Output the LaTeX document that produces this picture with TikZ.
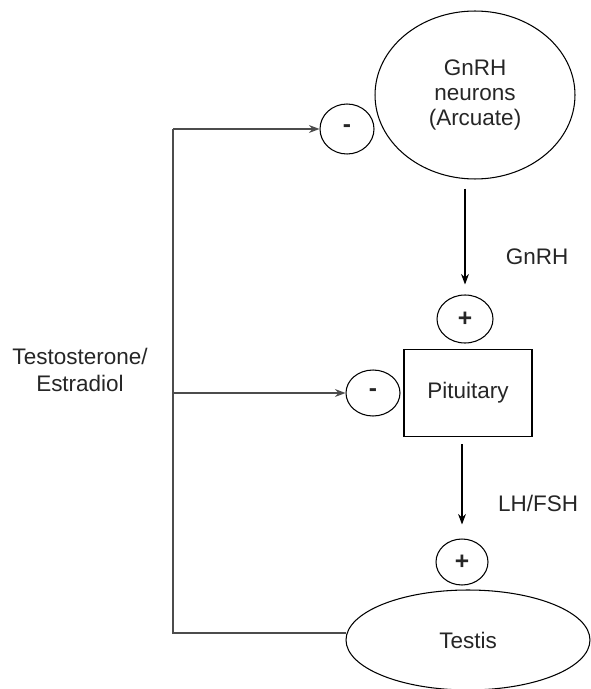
\documentclass[tikz,border=0pt]{standalone}
\usepackage{fontspec}
\setmainfont{Liberation Sans}
\usetikzlibrary{arrows.meta,calc,shapes.geometric}
\tikzset{
    organ/.style={ellipse, draw, line width=0.6pt, inner sep=0pt,
                  align=center, text=black!85},
    sign/.style={ellipse, draw, line width=0.6pt, inner sep=0pt,
                 font=\fontsize{14pt}{16pt}\selectfont\bfseries, text=black!85},
    box/.style={draw, line width=0.6pt, inner sep=0pt, align=center,
                text=black!85},
    flow/.style={-{Stealth[length=6pt,width=4.5pt]}, line width=0.6pt},
    feedback/.style={line width=0.8pt, draw=black!70},
    note/.style={align=center, text=black!85},
}

\begin{document}
\begin{tikzpicture}[x=0.02cm, y=-0.02cm,
                    font=\fontsize{12.8pt}{14.3pt}\selectfont]
    \useasboundingbox (0,0) rectangle (591,689);

    \node[organ, minimum width=4cm, minimum height=3.36cm] (gnrh) at (475,95)
        {GnRH\\neurons\\(Arcuate)};
    \node[sign, minimum width=1.08cm, minimum height=1cm] (inhibtop) at (347,129) {-};

    \node[sign, minimum width=1.12cm, minimum height=0.96cm] (plustop) at (465,319) {+};
    \node[box, minimum width=2.56cm, minimum height=1.74cm] (pituitary) at (468,393) {Pituitary};
    \node[sign, minimum width=1.08cm, minimum height=0.92cm] (inhibmid) at (373,393) {-};

    \node[sign, minimum width=1.04cm, minimum height=0.92cm] (plusbot) at (462,562) {+};
    \node[organ, minimum width=4.88cm, minimum height=2cm] (testis) at (468,640) {Testis};

    \node[note] (gnrhlabel) at (537,257) {GnRH};
    \node[note] (lhfshlabel) at (538,503) {LH/FSH};
    \node[note, font=\fontsize{12.8pt}{15.4pt}\selectfont] (steroids) at (80,370)
        {Testosterone/\\Estradiol};

    % hormone axis
    \draw[flow, shorten <=0.18cm, shorten >=0.2cm] (gnrh.south -| plustop) -- (plustop.north);
    \draw[flow, shorten <=0.14cm, shorten >=0.28cm] (pituitary.south -| plusbot) -- (plusbot.north);

    % negative feedback
    \coordinate (spinetop) at (173,129);
    \coordinate (spinemid) at (173,393);
    \coordinate (spinebot) at (173,633);
    \draw[feedback] (testis.west |- spinebot) -- (spinebot) -- (spinetop);
    \draw[feedback, flow] (spinetop) -- (inhibtop.west);
    \draw[feedback, flow] (spinemid) -- (inhibmid.west);
\end{tikzpicture}
\end{document}
